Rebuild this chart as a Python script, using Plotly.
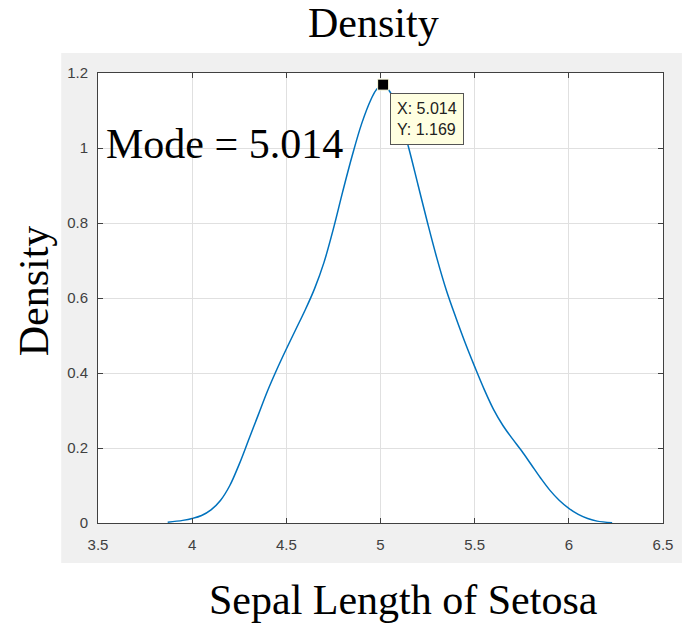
import plotly.graph_objects as go

# Kernel density curve (Sepal length of Setosa)
x_vals = [3.87, 3.95, 4.0, 4.05, 4.1, 4.15, 4.2, 4.25, 4.3, 4.35,
          4.4, 4.45, 4.5, 4.55, 4.6, 4.65, 4.7, 4.75, 4.8, 4.85,
          4.9, 4.95, 4.98, 5.014, 5.05, 5.1, 5.15, 5.2, 5.25, 5.3,
          5.35, 5.4, 5.45, 5.5, 5.55, 5.6, 5.65, 5.7, 5.75, 5.8,
          5.85, 5.9, 5.95, 6.0, 6.05, 6.1, 6.15, 6.23]
y_vals = [0.002, 0.007, 0.012, 0.02, 0.035, 0.06, 0.1, 0.157, 0.222, 0.287,
          0.352, 0.41, 0.464, 0.516, 0.568, 0.625, 0.695, 0.785, 0.885, 0.98,
          1.065, 1.13, 1.157, 1.169, 1.15, 1.09, 1.0, 0.9, 0.8, 0.705,
          0.62, 0.548, 0.48, 0.417, 0.357, 0.303, 0.26, 0.225, 0.192, 0.156,
          0.12, 0.087, 0.06, 0.039, 0.023, 0.012, 0.005, 0.001]

mode_x = 5.014
mode_y = 1.169

x_ticks = [3.5, 4, 4.5, 5, 5.5, 6, 6.5]
x_tick_labels = ["3.5", "4", "4.5", "5", "5.5", "6", "6.5"]
y_ticks = [0, 0.2, 0.4, 0.6, 0.8, 1, 1.2]
y_tick_labels = ["0", "0.2", "0.4", "0.6", "0.8", "1", "1.2"]

SERIF = "Times New Roman, Liberation Serif, serif"
SANS = "Arial, Liberation Sans, sans-serif"

fig = go.Figure()
fig.add_trace(go.Scatter(x=x_vals, y=y_vals, mode="lines",
                         line=dict(color="#0072BD", width=1.5, shape="spline", smoothing=1),
                         hoverinfo="skip", showlegend=False))
fig.add_trace(go.Scatter(x=[mode_x], y=[mode_y], mode="markers",
                         marker=dict(symbol="square", size=11, color="black",
                                     line=dict(color="#ffffe1", width=1)),
                         hoverinfo="skip", showlegend=False))

axis_common = dict(showline=True, mirror="ticks", linecolor="#404040", linewidth=1,
                   ticks="inside", ticklen=5, tickcolor="#404040",
                   showgrid=True, gridcolor="#e0e0e0", gridwidth=1,
                   zeroline=False,
                   tickfont=dict(family=SANS, size=15, color="#404040"))

fig.update_xaxes(range=[3.5, 6.5], tickvals=x_ticks, ticktext=x_tick_labels,
                 ticklabelstandoff=8, **axis_common)
fig.update_yaxes(range=[0, 1.2], tickvals=y_ticks, ticktext=y_tick_labels,
                 ticklabelstandoff=6, **axis_common)

fig.update_layout(
    width=685, height=623,
    margin=dict(l=98, r=19, t=73, b=100),
    paper_bgcolor="white", plot_bgcolor="white",
    shapes=[
        dict(type="rect", xref="paper", yref="paper",
             x0=(61 - 98) / 568, x1=(685 - 98) / 568,
             y0=(523 - 563) / 450, y1=(523 - 53) / 450,
             fillcolor="#f0f0f0", line=dict(width=0), layer="below"),
        dict(type="rect", xref="paper", yref="paper", x0=0, x1=1, y0=0, y1=1,
             fillcolor="white", line=dict(width=0), layer="below"),
    ],
    annotations=[
        dict(text="Density", xref="paper", yref="paper",
             x=(375 - 98) / 568, y=(523 - 23) / 450,
             xanchor="center", yanchor="middle", showarrow=False,
             font=dict(family=SERIF, size=42, color="black")),
        dict(text="Sepal Length of Setosa", xref="paper", yref="paper",
             x=(405 - 98) / 568, y=(523 - 600) / 450,
             xanchor="center", yanchor="middle", showarrow=False,
             font=dict(family=SERIF, size=42, color="black")),
        dict(text="Density", xref="paper", yref="paper",
             x=(34 - 98) / 568, y=(523 - 291) / 450, textangle=-90,
             xanchor="center", yanchor="middle", showarrow=False,
             font=dict(family=SERIF, size=42, color="black")),
        dict(text="Mode = 5.014", xref="paper", yref="paper",
             x=(104 - 98) / 568, y=(523 - 143.5) / 450,
             xanchor="left", yanchor="middle", showarrow=False,
             font=dict(family=SERIF, size=42, color="black")),
        dict(text="X: 5.014<br>Y: 1.169", x=mode_x, y=mode_y, xref="x", yref="y",
             xanchor="left", yanchor="top", xshift=7, yshift=-8, align="left",
             showarrow=False, bgcolor="#ffffe1", bordercolor="#555555",
             borderwidth=1, borderpad=6,
             font=dict(family=SANS, size=16, color="#222222")),
    ],
)

fig.write_html("out.html")
